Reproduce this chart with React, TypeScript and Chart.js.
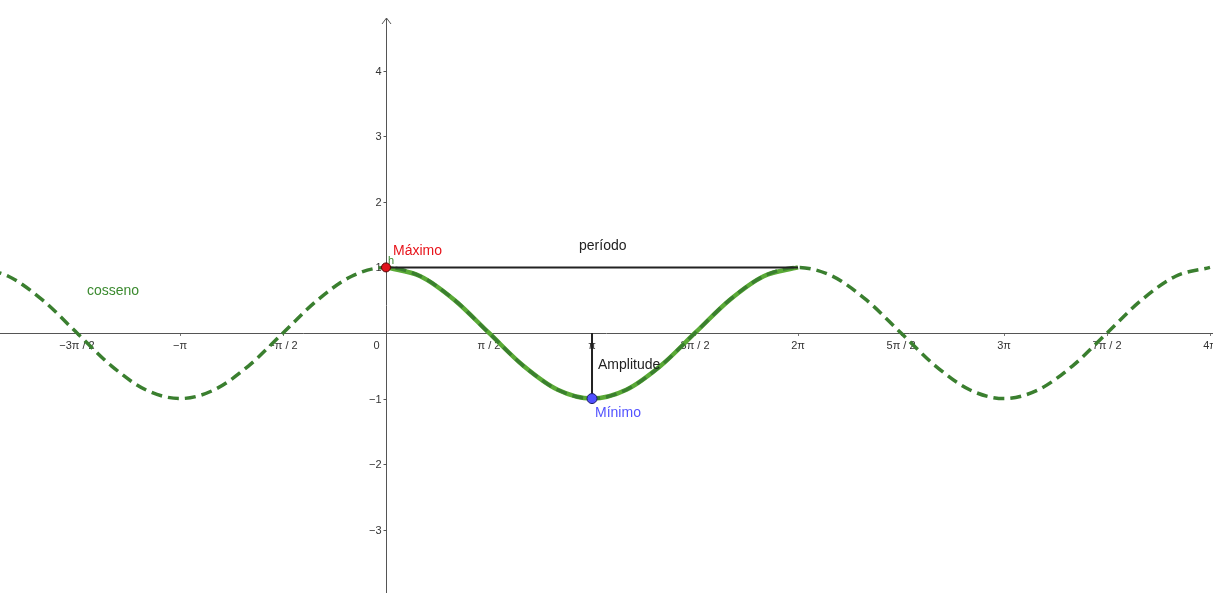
import React, { useEffect, useRef } from 'react';
import { Chart, registerables } from 'chart.js';

Chart.register(...registerables);

const PI = Math.PI;

// Curve samples, x in steps of π/6
const curveSteps = [
  -12, -11, -10, -9, -8, -7, -6, -5, -4, -3, -2, -1,
  0, 1, 2, 3, 4, 5, 6, 7, 8, 9, 10, 11,
  12, 13, 14, 15, 16, 17, 18, 19, 20, 21, 22, 23, 24,
];
const cosValues = [
  1, 0.866, 0.5, 0, -0.5, -0.866, -1, -0.866, -0.5, 0, 0.5, 0.866,
  1, 0.866, 0.5, 0, -0.5, -0.866, -1, -0.866, -0.5, 0, 0.5, 0.866,
  1, 0.866, 0.5, 0, -0.5, -0.866, -1, -0.866, -0.5, 0, 0.5, 0.866, 1,
];
// one period, from 0 to 2π (sample indices)
const periodStart = 12;
const periodEnd = 24;

// Axis ticks
const xTickSteps = [-3, -2, -1, 1, 2, 3, 4, 5, 6, 7, 8]; // multiples of π/2
const xTickLabels = ['−3π / 2', '−π', '−π / 2', 'π / 2', 'π', '3π / 2', '2π', '5π / 2', '3π', '7π / 2', '4π'];
const yTickValues = [-3, -2, -1, 1, 2, 3, 4];
const yTickLabels = ['−3', '−2', '−1', '1', '2', '3', '4'];

// Visible window
const xRange = [-5.887, 12.612];
const yRange = [-3.965, 5.078];

// Marked points and segments
const maxPoint = { x: 0, y: 1 };
const minPoint = { x: PI, y: -1 };
const periodSegment = [{ x: 0, y: 1 }, { x: 2 * PI, y: 1 }];
const amplitudeSegment = [{ x: PI, y: 0 }, { x: PI, y: -1 }];

const FONT = '"Liberation Sans", Arial, sans-serif';

type Note = { text: string; x: number; y: number; dx: number; dy: number; color: string; size: number };
const notes: Note[] = [
  { text: 'Máximo', x: 0, y: 1, dx: 7, dy: -16, color: '#e8141b', size: 14 },
  { text: 'h', x: 0, y: 1, dx: 2, dy: -6, color: '#3b8a2f', size: 11 },
  { text: 'período', x: PI, y: 1, dx: -13, dy: -21, color: '#222222', size: 14 },
  { text: 'Amplitude', x: PI, y: -0.5, dx: 6, dy: -1, color: '#222222', size: 14 },
  { text: 'Mínimo', x: PI, y: -1, dx: 3, dy: 15, color: '#5353ff', size: 14 },
  { text: 'cosseno', x: -5.887, y: 1, dx: 87, dy: 24, color: '#3b8a2f', size: 14 },
];

const axesPlugin = {
  id: 'geoAxes',
  beforeDatasetsDraw(chart: any) {
    const { ctx, scales } = chart;
    const xs = scales.x;
    const ys = scales.y;
    const x0 = Math.round(xs.getPixelForValue(0)) + 0.5;
    const y0 = Math.round(ys.getPixelForValue(0)) + 0.5;
    ctx.save();
    ctx.strokeStyle = '#555555';
    ctx.lineWidth = 1;
    ctx.beginPath();
    ctx.moveTo(0, y0);
    ctx.lineTo(chart.width, y0);
    ctx.moveTo(x0, chart.height);
    ctx.lineTo(x0, 18);
    ctx.moveTo(x0 - 4.5, 24);
    ctx.lineTo(x0, 18);
    ctx.lineTo(x0 + 4.5, 24);
    ctx.stroke();
    // y tick marks and labels, left of the axis
    ctx.fillStyle = '#333333';
    ctx.font = `11px ${FONT}`;
    ctx.textAlign = 'right';
    ctx.textBaseline = 'middle';
    ctx.beginPath();
    yTickValues.forEach((v, i) => {
      const py = Math.round(ys.getPixelForValue(v)) + 0.5;
      ctx.moveTo(x0 - 3, py);
      ctx.lineTo(x0, py);
      ctx.fillText(yTickLabels[i], x0 - 5, py);
    });
    ctx.stroke();
    // origin label
    ctx.textAlign = 'center';
    ctx.fillText('0', x0 - 10, y0 + 12);
    ctx.restore();
  },
  afterDatasetsDraw(chart: any) {
    const { ctx, scales } = chart;
    ctx.save();
    ctx.textAlign = 'left';
    ctx.textBaseline = 'middle';
    for (const n of notes) {
      ctx.font = `${n.size}px ${FONT}`;
      ctx.fillStyle = n.color;
      ctx.fillText(n.text, scales.x.getPixelForValue(n.x) + n.dx, scales.y.getPixelForValue(n.y) + n.dy);
    }
    ctx.restore();
  },
};

export default function App() {
  const canvasRef = useRef<HTMLCanvasElement | null>(null);

  useEffect(() => {
    document.body.style.margin = '0';
    const canvas = canvasRef.current;
    if (!canvas) return;

    const curve = curveSteps.map((k, i) => ({ x: (k * PI) / 6, y: cosValues[i] }));
    const period = curve.slice(periodStart, periodEnd + 1);

    const chart = new Chart(canvas, {
      type: 'line',
      data: {
        datasets: [
          {
            label: 'Máximo',
            data: [maxPoint],
            showLine: false,
            pointRadius: 4.5,
            pointBackgroundColor: '#e0141b',
            pointBorderColor: '#550000',
            pointBorderWidth: 1,
            order: 0,
          },
          {
            label: 'Mínimo',
            data: [minPoint],
            showLine: false,
            pointRadius: 5,
            pointBackgroundColor: '#5050ff',
            pointBorderColor: '#1a1a66',
            pointBorderWidth: 1,
            order: 0,
          },
          {
            label: 'período',
            data: periodSegment,
            borderColor: '#222222',
            borderWidth: 2,
            pointRadius: 0,
            order: 1,
          },
          {
            label: 'Amplitude',
            data: amplitudeSegment,
            borderColor: '#222222',
            borderWidth: 2,
            pointRadius: 0,
            order: 1,
          },
          {
            label: 'cosseno',
            data: curve,
            borderColor: '#3a7f2f',
            borderWidth: 3.5,
            borderDash: [11, 6],
            pointRadius: 0,
            cubicInterpolationMode: 'monotone',
            order: 2,
          },
          {
            label: 'cosseno (0 a 2π)',
            data: period,
            borderColor: '#5aaa36',
            borderWidth: 4.5,
            pointRadius: 0,
            cubicInterpolationMode: 'monotone',
            order: 3,
          },
        ],
      },
      options: {
        animation: false,
        responsive: false,
        layout: { padding: 0, autoPadding: false },
        plugins: {
          legend: { display: false },
          title: { display: false },
          tooltip: { enabled: false },
        },
        scales: {
          x: {
            type: 'linear',
            position: { y: 0 } as any,
            min: xRange[0],
            max: xRange[1],
            border: { display: false },
            grid: { drawOnChartArea: false, drawTicks: true, tickLength: 3, color: '#777777' },
            afterBuildTicks: (scale: any) => {
              scale.ticks = xTickSteps.map((k) => ({ value: (k * PI) / 2 }));
            },
            afterFit: (scale: any) => {
              scale.paddingLeft = 0;
              scale.paddingRight = 0;
            },
            ticks: {
              autoSkip: false,
              maxRotation: 0,
              padding: 3,
              color: '#333333',
              font: { family: FONT, size: 11 },
              callback: (_v: any, i: number) => xTickLabels[i],
            },
          },
          y: {
            type: 'linear',
            position: { x: 0 } as any,
            min: yRange[0],
            max: yRange[1],
            border: { display: false },
            grid: { display: false },
            afterBuildTicks: (scale: any) => {
              scale.ticks = yTickValues.map((v) => ({ value: v }));
            },
            afterFit: (scale: any) => {
              scale.paddingTop = 0;
              scale.paddingBottom = 0;
            },
            ticks: { display: false },
          },
        },
      },
      plugins: [axesPlugin],
    });

    return () => chart.destroy();
  }, []);

  return (
    <div style={{ position: 'absolute', left: 0, top: 0, width: 1213, height: 593, background: '#ffffff' }}>
      <canvas ref={canvasRef} width={1213} height={593} style={{ display: 'block' }} />
    </div>
  );
}
